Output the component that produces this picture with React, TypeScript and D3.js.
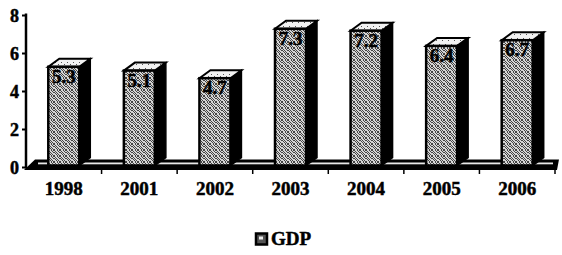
import React from "react";
import * as d3 from "d3";

const categories = ["1998", "2001", "2002", "2003", "2004", "2005", "2006"];
const gdpValues = [5.3, 5.1, 4.7, 7.3, 7.2, 6.4, 6.7];
const valueLabels = ["5.3", "5.1", "4.7", "7.3", "7.2", "6.4", "6.7"];
const yTicks = [0, 2, 4, 6, 8];
const seriesName = "GDP";

const W = 562;
const H = 255;
const left = 26;
const right = 555;
const y0 = 167.5;
const yTop = 15.5;
const DX = 11;
const DY = -8;
const FRONT_W = 31;
const serif = "'Liberation Serif', 'Times New Roman', serif";

// deterministic stipple dots
const dots: [number, number][] = [];
for (let i = 0; i < 6; i++) for (let j = 0; j < 6; j++) {
  if ((i * 7 + j * 3) % 5 < 2) dots.push([i, j]);
}

export default function App() {
  const x = d3.scaleBand<string>().domain(categories).range([left, right]);
  const y = d3.scaleLinear().domain([0, 8]).range([y0, yTop]);
  const txt = { fontFamily: serif, fontWeight: "bold" as const, fill: "#000", stroke: "#000", strokeWidth: 0.5 };

  return (
    <svg width={W} height={H} style={{ position: "absolute", left: 0, top: 0, background: "#fff" }}>
      <defs>
        <pattern id="stip" width="6" height="6" patternUnits="userSpaceOnUse">
          <rect width="6" height="6" fill="#d6d6d6" />
          {dots.map(([i, j], k) => (
            <rect key={k} x={i} y={j} width="1" height="1" fill="#444" />
          ))}
        </pattern>
        <pattern id="stipLight" width="6" height="6" patternUnits="userSpaceOnUse">
          <rect width="6" height="6" fill="#f2f2f2" />
          <rect x="1" y="2" width="1" height="1" fill="#555" />
          <rect x="4" y="4" width="1" height="1" fill="#555" />
        </pattern>
      </defs>

      {/* floor */}
      <polygon points={`${left - 2},170 ${left + 9},159.5 ${right + 4},159.5 ${right + 2},170`} fill="#000" />
      <rect x={left + 12} y={162.5} width={right - left - 14} height={1.8} fill="#e8e8e8" />
      {/* category ticks under floor */}
      {categories.map((c) => {
        const bx = (x(c) as number) + x.bandwidth();
        return <line key={c} x1={bx} x2={bx} y1={168} y2={174} stroke="#000" strokeWidth={1.5} />;
      })}

      {/* bars */}
      {categories.map((c, i) => {
        const cx = (x(c) as number) + x.bandwidth() / 2;
        const fx = cx - FRONT_W / 2;
        const ty = y(gdpValues[i]);
        const by = y(0) - 2;
        const top = `${fx},${ty} ${fx + DX},${ty + DY} ${fx + FRONT_W + DX},${ty + DY} ${fx + FRONT_W},${ty}`;
        const side = `${fx + FRONT_W},${ty} ${fx + FRONT_W + DX},${ty + DY} ${fx + FRONT_W + DX},${by + DY} ${fx + FRONT_W},${by}`;
        return (
          <g key={c}>
            <polygon points={side} fill="#000" stroke="#000" strokeWidth={1.5} />
            <polygon points={top} fill="url(#stipLight)" stroke="#000" strokeWidth={2} />
            <rect x={fx} y={ty} width={FRONT_W} height={by - ty} fill="url(#stip)" stroke="#000" strokeWidth={2.5} />
            <text x={cx} y={ty + 16} textAnchor="middle" fontSize={19} {...txt}>
              {valueLabels[i]}
            </text>
          </g>
        );
      })}

      {/* y axis */}
      <line x1={left} x2={left} y1={yTop - 2} y2={y0 + 1} stroke="#000" strokeWidth={2.5} />
      {yTicks.map((t) => (
        <g key={t}>
          <line x1={left - 4} x2={left} y1={y(t)} y2={y(t)} stroke="#000" strokeWidth={2} />
          <text x={19} y={y(t) + 6} textAnchor="end" fontSize={18} {...txt}>
            {t}
          </text>
        </g>
      ))}

      {/* x labels */}
      {categories.map((c) => (
        <text key={c} x={(x(c) as number) + x.bandwidth() / 2} y={195} textAnchor="middle" fontSize={19} {...txt}>
          {c}
        </text>
      ))}

      {/* legend */}
      <rect x={256} y={233.5} width={11} height={11} fill="#555" stroke="#000" strokeWidth={2.5} />
      <rect x={259} y={236.5} width={4} height={3} fill="#eee" />
      <text x={271} y={245} fontSize={19} {...txt}>{seriesName}</text>
    </svg>
  );
}
